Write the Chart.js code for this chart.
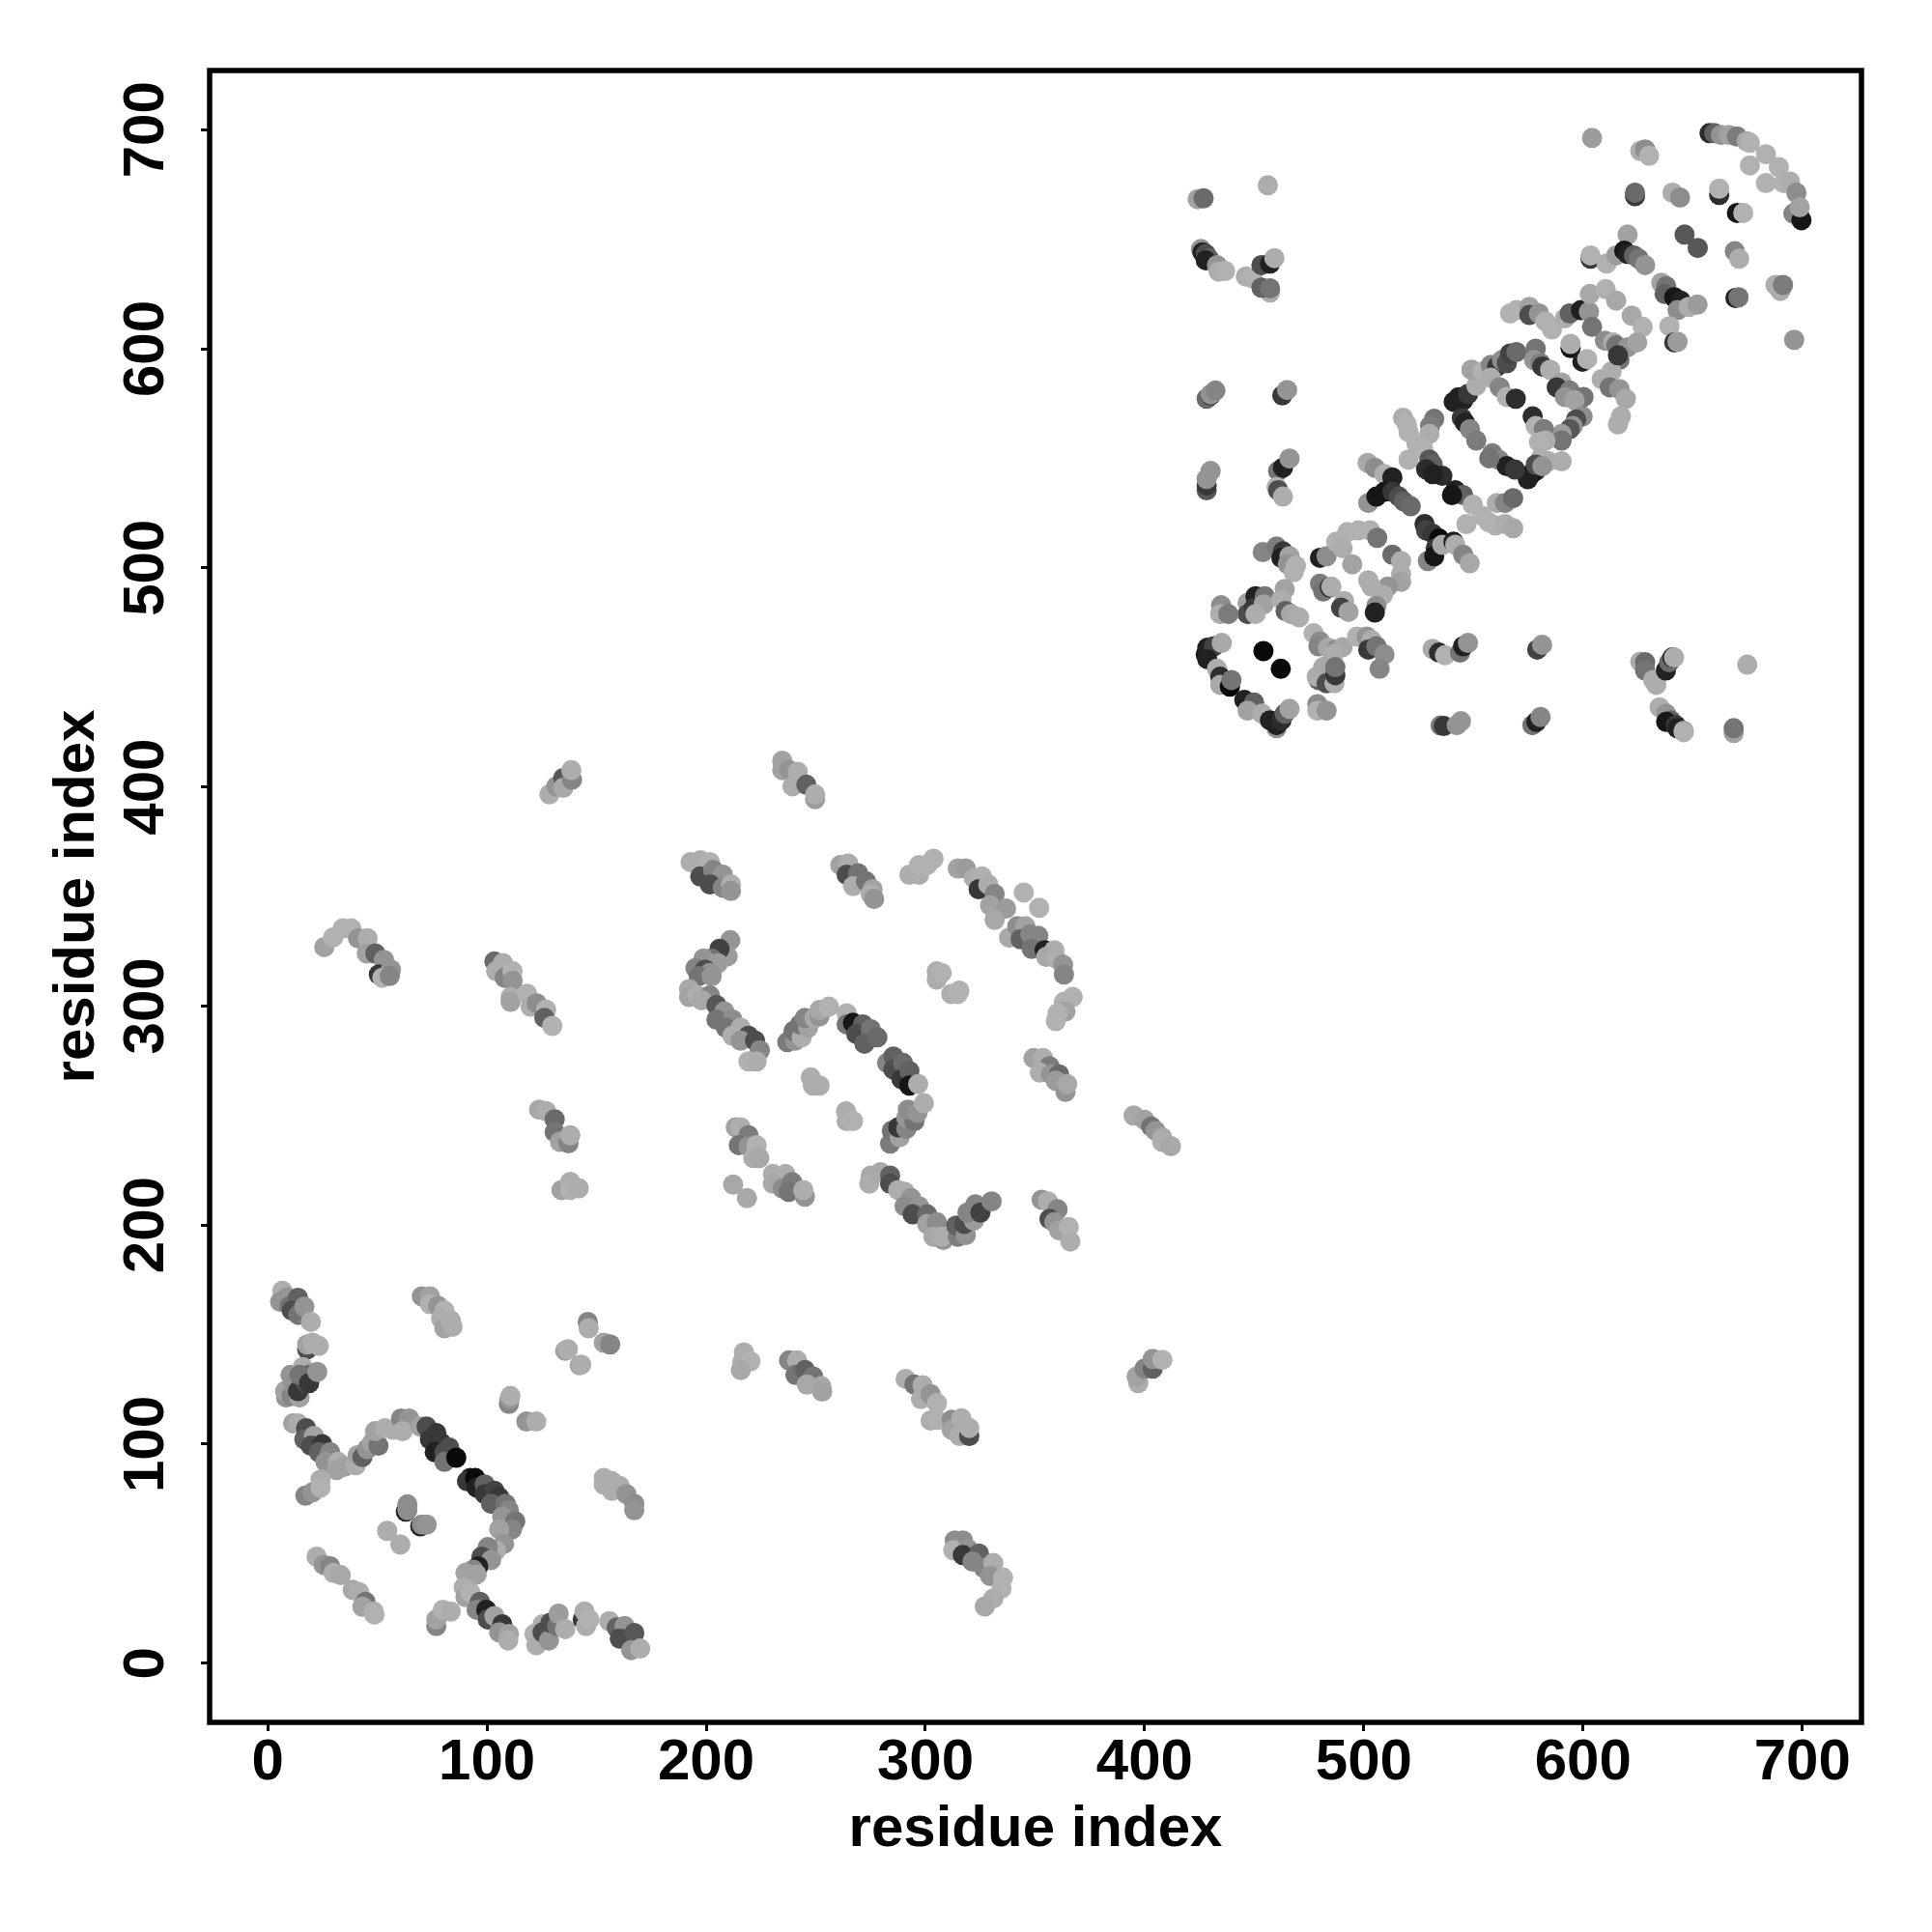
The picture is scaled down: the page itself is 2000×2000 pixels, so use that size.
<!DOCTYPE html>
<html>
<head>
<meta charset="utf-8">
<title>residue contacts</title>
<script src="https://cdn.jsdelivr.net/npm/chart.js@4"></script>
<style>
  html, body { margin: 0; padding: 0; background: #fff; }
</style>
</head>
<body>
<canvas id="contactChart" width="2000" height="2000"></canvas>
<script>
// Values, one line per group of points. Later points sit on top.
const residueX = [
  6.7,5.7,9,10,13,13.8,11,14,16.7,19.7,
  18,18,20.4,23.3,
  8.4,7.9,10.9,14.5,11.6,10.4,13.8,16,17.5,18.9,14.5,18.9,22.6,
  11.6,13.8,17.5,16.7,21.1,19.7,24.8,23.3,28.5,26.3,32.1,31.4,35.1,
  40.2,41,43.2,45.4,47.6,50.5,49,53.4,57.1,60.8,64.5,61.5,69.6,
  72.5,74,76.9,79.1,76.2,80.6,82.8,80.6,86,
  92.4,90.9,94.6,95.3,99,99,103.4,105.6,101.9,108.5,110,107,112.9,111.4,105.6,
  107.8,104.1,100.4,97.5,101.9,96,93.8,90.2,95.3,
  89.4,90.2,92.4,96.8,95.3,99.7,100.4,103.4,107,105.6,110,109.7,
  146,146.4,153.3,156.2,135.7,136.9,142.3,143,
  110,110.3,110.7,118,122.5,
  153.3,157,153.3,157,160.6,163.6,167.2,167.2,
  70.3,74,74,77.7,80.6,79.1,80.6,83.5,84.3,
  17.2,20.4,24.1,24.1,
  63,63.7,63.7,69.6,70.3,72.5,54.5,60.5,
  22.3,25.5,28.5,30,33.3,38.8,41.7,44.6,43.2,48.3,48.7,
  76.9,76.9,79.9,83.5,
  121.7,122.5,125.4,125.4,128.3,129,132,132.7,135.7,
  143.7,144.5,145.2,146.7,
  155.8,159.2,162.8,160.6,167.2,165.8,169.9,
  192.9,197.3,201.7,197.3,203.2,207.6,201.7,207.6,211.3,211.3,
  261.2,264.8,264.1,269.3,267,272.9,275.9,275.1,276.6,
  292.7,297.1,297.1,300.8,303.7,
  314.8,318.4,322.1,325.8,324.3,328.7,331.6,329.5,336.8,331.6,338.2,341.9,345.6,343.4,347.8,351.5,348.5,354.4,358.8,355.1,359.5,362.8,363.2,344.9,351.9,
  367.2,363.2,363.9,360.3,359.5,
  305.2,305.2,307.4,311.8,315.5,314.8,
  211,209.8,206.1,202.5,198.8,205.4,195.1,199.5,201.7,196.6,202.5,
  192.2,192.2,195.9,201.7,198,204.7,208.3,204.7,212,209,215.7,212,219.3,215.7,222.3,224.5,219.3,223,
  237,240.6,239.9,243.6,242.8,246.5,245,249.4,251.7,251.7,256,
  264.1,264.1,267,271.5,268.5,275.1,272.2,278.1,
  282.5,285.4,285.4,289.8,289.1,292.7,292.7,296.7,
  283.9,284.7,288.3,287.6,291.3,291.3,295,292,296.4,299.3,
  247.7,248.7,251.7,
  263.8,264.1,267,
  349.3,353.7,356.6,352.2,357.3,361,359.5,363.9,364.7,
  213.5,215.7,219.3,214.9,219.3,223,221.5,224.2,
  212.3,218.6,
  230.4,236.2,230.4,234.8,239.2,237.7,245,244.3,
  275.1,274.4,279.5,283.9,283.9,287.6,290.5,293.5,290.5,297.1,294.2,300.8,300.8,305.2,303.7,308.2,307.4,
  314.8,314,318.4,317.7,322.1,319.2,322.8,325.1,330.2,
  353,355.9,360.3,356.6,358.8,361,365.4,366.1,
  395,400,403,405,408,408,412,
  25.8,29.8,34.2,38.1,41.2,45.6,45.2,49.1,53,50.7,56.2,52.3,55.7,
  128.5,131.7,134.8,134.8,138.8,138.5,
  234.7,234.7,237.9,241.8,239.4,245.7,249.7,249.7,
  103.4,104.2,107.3,108.1,111.7,111.7,110.8,110.8,118.3,119.9,122.7,127,126.2,129.8,
  123.8,127,130.9,130.9,133.3,137.2,138,
  134,138,138,141.9,
  217.2,216.5,220.2,215.8,
  237.8,241.5,240.7,245.1,248.8,245.9,252.5,252.9,
  291,295,298.7,298,302.4,305.3,302.4,305.3,312,312,316.4,315.6,320,320,
  397.1,396.4,400,403.7,403.7,408.1,
  313.4,317.1,312.7,319.3,317.1,324.4,321.5,326.6,331,329.6,335.4,334.7,331,327.1,
  424.2,426.9,456.2,
  425.7,426.4,427.9,429.4,427.9,433,433.8,436.7,
  446.2,449.2,457.2,453.3,457.2,453.3,457.2,459.2,
  428.3,430.1,430.1,432.3,
  462.8,465,
  428.3,428.3,428.3,430.1,
  460.9,463.1,466.1,
  460.2,460.9,463.1,
  453.9,460.2,463.1,462.4,466.1,465.3,469,468,
  480,483,487.4,492.5,497.6,502.8,506.1,490.3,494.7,513,517,517,517,510.9,508.7,502,503.5,505.7,505,
  480,481.5,484.4,485.2,
  491,489.6,493,
  447,447,450.6,449.9,454.8,454.3,450.6,
  434.9,434.5,438.2,
  463.9,462.4,464.3,466.8,470.5,
  477.1,480,479.3,483.7,487.4,490.3,485.9,
  496.9,501.3,503.5,502,505.7,509.4,507.2,
  479.3,478.5,481.5,483,486.6,487,487,
  478.8,478.8,483,
  427.9,428.6,431.6,435.2,428.6,433,434.5,434.5,438.9,439.6,
  445.5,449.9,447,453.6,460.2,457.2,460.2,462.4,463.9,466.1,
  454.2,462.1,
  531.4,534.3,537,
  543.9,545.3,547.5,
  579.1,581.3,
  535,536.5,542.4,544.3,
  576.9,578.7,580.6,
  626.1,628.3,628.3,632,633.4,637.8,639.3,640.8,641.5,
  634.9,637.9,640,637.9,642.3,643,645.9,645.9,
  674.9,
  668.7,668.7,
  501.7,505,509.4,513,
  502,505.7,509.4,513,516,518.2,521.4,
  527.7,528.4,531.4,534.3,532.8,529.2,532.1,535.8,540.9,541.7,545.3,548.3,
  517.9,519.6,520.4,532.1,530.2,529.9,524,527,520.4,529.9,531.4,528.4,535.8,531.4,
  541.7,545.3,540.2,549.7,546.8,554.1,557,560.7,564.4,568.1,560,564.4,568.1,
  541,543.2,545.4,547.6,551.3,
  549.1,554.2,
  544.7,546.1,548.4,551.3,
  557.9,560.8,563,565.2,566.7,569.6,557.9,
  562,565.2,569.3,
  577,578.4,
  578.4,577.7,580.6,581.4,585,
  590.2,588,593.9,591.7,600.2,596.1,
  599.8,596.8,595.3,593.9,590.2,590.2,
  582.1,582.8,579.9,
  590.2,584.3,580.6,
  578.4,576.2,574.8,578.4,581.4,
  558.6,561.6,565.2,568.9,557.2,
  604.1,
  626.1,628.3,630.1,
  623.7,623.7,
  640.8,644.2,
  662.1,662.1,
  670.2,673.1,
  646.3,652.3,
  669.2,671.2,
  687.8,690,691.2,
  669.5,670.9,
  696.3,
  657.7,659.9,662.9,666.5,670.2,674.6,676.1,676.1,683.4,689.3,683.4,691.5,694.4,697.3,698.8,695.9,699.6,698.8,
  603.4,603.4,610.7,615.1,620.3,618.8,620.3,623.2,625.4,628.3,
  635.7,637.9,637.2,641.6,644.5,643.1,648.2,652.2,
  639.4,641.6,643.1,
  566.7,569.6,575.5,575.5,579.9,582.8,585.8,
  591.7,593.9,599,602.7,603.1,610.3,604.1,615.1,
  622.2,627.2,
  594.3,594.3,
  599.7,601.9,
  610,613.7,615.1,616.6,620.3,624.7,613,615.9,
  608.5,612.2,616.6,619.5,617.3,615.9
];

const residueY = [
  170,165,167,163,164,166.8,161,159,162.7,155.8,
  143.3,145.5,146.3,144.8,
  121.3,124.2,122,121.3,127.9,131.6,124.2,135.2,127.9,131.6,131.6,127.9,133,
  109.5,109.5,107.3,102.2,103.7,99.3,100,96.3,96.3,91.9,91.9,88.2,89.7,
  90.4,94.9,94.1,97.8,100.7,99.3,105.9,107.3,106.6,111.7,111.7,105.9,108,
  108,102.2,105.1,100.7,96.3,96.3,98.5,91.9,93.8,
  84.6,83.1,84.6,80.2,81.6,77.2,78.7,75.8,72.8,72.8,69.9,66.9,64.8,61.1,61.1,
  54.5,51.5,53,48.6,47.1,44.2,42.7,41.2,40.5,
  34.6,30.2,32.4,28,24.4,24.4,20,21.5,17.8,14.1,13.4,10.4,
  155.8,152.9,146.3,145.5,142.6,143.3,136,136.3,
  118.4,120.6,122,110.3,110.3,
  81.6,78.7,84.6,83.1,80.9,77.2,72.8,69.9,
  167.5,167.5,163.9,163.1,160.9,157.3,152.9,156.5,153.6,
  76.5,78,83.8,80.2,
  69.2,69.9,72.5,62.5,63.3,63.3,60.4,54.2,
  48.6,44.9,44.2,41.2,40.2,33.5,32.4,28,25.8,23.6,22.2,
  17,20,24.4,23.6,
  13.4,8.2,17.8,14.1,10.4,18.5,17,22.6,15.6,
  20,23.6,17,20,
  19.2,16.3,17,11.2,13.8,6,6.7,
  365.7,366.5,365.7,359.1,362.1,359.9,355.5,354,355.5,352.5,
  364.3,365,359.9,360.6,354.7,356.9,353.3,351.1,348.9,
  359.9,359.9,364.3,364.3,367.2,
  362.8,362.8,358.4,359.1,353.3,355.5,351.1,345.9,344.5,339.3,331.2,336.4,336.4,330.5,332.7,332,326.1,325.4,325.4,322.4,321.7,318.8,314.4,351.8,344.8,
  304.1,301.9,297.5,296.7,293.1,
  315.8,312.1,315.1,305.5,307,305.5,
  330,322.7,326.1,321.7,321.7,319.5,317.3,316.6,315.1,313.6,313.6,
  307.7,304.1,304.8,304.8,302.6,300.4,297.5,293.8,293.8,290.1,290.1,286.4,286.4,284.2,284.2,279.8,274.7,274.7,
  283.5,284.2,288.6,285.7,291.6,290.1,294.5,294.5,295.3,298.2,299.7,
  296.7,291.6,292.3,291.6,287.2,289.4,282.8,285.7,
  274,276.9,271,274,266.6,270.3,263.7,264.4,
  237.2,243.1,240.2,244.6,243.9,249,247.5,252.7,251.2,255.6,
  267.4,263.7,263.7,
  251.9,247.5,247.5,
  276.2,276.2,272.5,269.6,268.8,268.8,265.9,260.8,264.4,
  244.6,244.6,241,236.5,235.8,236.5,230.6,230.6,
  218.5,212.3,
  223.3,223.3,218.9,216.7,219.6,215.2,213,216,
  222.6,218.9,224.1,222.6,218.9,216,215.2,212.3,208.6,208.6,204.9,204.9,200.5,201.3,194.7,193.2,194.7,
  194.7,199.8,195.4,200.5,202,205.7,209.4,205.7,210.8,
  211.6,210.8,207.2,202.8,201.3,197.6,199.1,192.5,
  250,248,245,243,240,238,236,
  326.9,331.3,335.4,335.4,330.9,330.9,324,324,321,314.4,316.6,312.9,313.7,
  396.6,400.3,404,399.6,403.3,407.6,
  412,407.7,407.7,406.9,400.3,401,394.4,396.6,
  320.3,315.9,319.6,312.9,315.9,311.5,304.1,301.9,305.6,299.7,301.2,298.3,294.6,290.9,
  252.7,252,248.3,242.5,238,237.3,241,
  216,219.7,216,216.8,
  141.9,137.5,137.8,133.8,
  138.2,138.2,131.6,133.8,130.9,127.2,126.5,124,
  129.8,127.2,126.9,120.6,122.8,118.7,110.8,111.1,111.1,106.6,111.8,103.7,103.7,107.4,
  127.9,130.9,134.5,134.5,138.9,138.5,
  56,56,51.6,52.3,49.4,50.1,46.4,43.5,45.7,39.8,39.1,34,29.6,25.9,
  668.3,668.7,674.6,
  645.5,644,643.3,641.1,640.4,638.2,635.2,635.5,
  633,632.3,625.7,627.9,627.6,638.2,638.9,641.4,
  577.2,578.7,579.2,580.9,
  578.7,581.2,
  535.4,537.6,540.6,544.2,
  544.2,545.7,549.9,
  536.9,535.4,532.5,
  507.2,509.7,507.5,504.6,505.3,501.6,500.9,498,
  504.6,505.3,511.9,516.3,517.1,517.1,513.7,509,501.6,506,503.1,497.2,493.6,491.4,487.7,494.3,491.4,482.6,479.6,
  492.8,489.2,491.1,491.4,
  484.8,481.8,479.9,
  484,478.9,487,481.8,487,483.3,478.9,
  482.9,478.9,478.9,
  490.3,485.5,480.3,478.9,477.4,
  470.1,466.4,464.2,463.5,462.7,463.8,460.5,
  468.6,468.6,467.1,462.7,464.2,460.5,453.9,
  448.8,450.3,454.7,447.3,447.3,451,454.7,
  437.8,434.8,434.8,
  460.5,463.5,464.2,465.7,458.3,453.9,450.3,446.6,445.8,448.8,
  439.7,438.5,434.8,433.4,426.8,430.4,428.2,430.4,433.4,435.6,
  462,453.9,
  463,461.3,460.1,
  461.3,464.2,465.7,
  462.7,464.9,
  428,427.8,428.2,430,
  428.2,429.7,431.9,
  457.2,456.9,453.2,448.8,446.6,453.2,456.9,459.1,459.1,
  436.3,433.4,430.4,429.7,428.2,426.8,425.6,425,
  455.8,
  424.6,426.8,
  547.9,545.7,542.8,541.3,
  529.6,532.5,534.7,534.7,532.5,530.3,528.1,
  520,517.1,515.6,513.4,509,503.1,505.3,510.5,511.9,510.5,506,502.1,
  568.5,565.5,561.9,568,564.8,561.1,556.7,554.5,549.4,549.4,547.2,545,542,542.8,
  535.4,533.2,533.2,528.8,520,523.7,520.8,529.6,529.6,531.8,519.3,520,518.1,
  575.8,577.9,576.5,579.4,583.1,
  590.4,589.7,
  568.4,566.2,563.3,558.1,
  592.6,591.9,594.8,593.4,597.8,598.5,586.8,
  582.4,578,577.2,
  569.1,564.7,
  600,594.8,593.4,591.9,590.4,
  584.6,582.4,580.9,578,578,576.5,
  569.1,567.7,564.7,563.3,561.1,558.1,
  563.3,558.1,557.4,
  548.6,548.6,550,
  544.2,542.7,540.5,547.1,546.4,
  552.3,549.3,546.4,544.9,550,
  696.2,
  690.3,691,688.1,
  669.7,671.2,
  671.2,669,
  670.2,673.1,
  662,662,
  652.1,646,
  644.5,641.1,
  629.1,626.4,629.1,
  623.2,623.5,
  604.1,
  698.4,698.4,697.6,697.6,696.9,694.7,694,683.7,688.8,682.9,675.6,675.6,676.3,671.2,660.2,661.7,658.7,664.6,
  641.1,642.6,638.9,642.6,652.1,644.8,643.3,642.6,641.1,638.2,
  630.1,628.6,625,623.5,622,617.6,619.1,620.2,
  610.3,602.9,603.2,
  616.1,617.6,619.1,615.4,616.1,612.5,608.8,
  613.9,616.1,617.6,616.9,625,627.2,610,622,
  615.1,610,
  600.3,602.2,
  594.1,595.3,
  603.7,602.9,601.5,594.9,600.7,602.9,589.7,597,
  586.1,582.4,581.6,577.2,569.2,565.5
];

// 0 = palest grey, 1 = near black
const contactScore = [
  .1,.3,.3,.5,.5,.6,.7,.5,.3,.1,
  .7,.2,.1,.1,
  .3,.2,.4,.2,.3,.3,.8,.1,.7,.6,.5,.8,.3,
  .2,.1,.7,.6,.2,.7,.8,.6,.4,.3,.1,.2,.2,
  .1,.2,.6,.3,.2,.5,.2,.1,.1,.4,.3,.1,.2,
  .7,.8,.8,.8,.9,.7,.7,.5,1,
  .95,.8,1,.9,.6,.8,.75,.8,.6,.5,.4,.3,.5,.4,.2,
  .3,.1,.4,.7,.3,.9,.4,.2,.2,
  .1,.2,.05,.6,.4,.9,.7,.2,.8,.3,.2,.1,
  .4,.1,.2,.4,.2,.1,.2,.1,
  .4,.3,.1,.3,.1,
  .1,.1,.1,.1,.1,.3,.35,.3,
  .3,.2,.05,.3,.05,.1,.2,.1,.1,
  .4,.3,.1,.05,
  .9,.35,.35,.9,.35,.3,.1,.1,
  .1,.3,.4,.1,.15,.15,.1,.5,.2,.1,.05,
  .4,.2,.05,.1,
  .05,.1,.1,.7,.3,.7,.5,.25,.1,
  .8,.1,.1,.05,
  .1,.6,.3,.7,.65,.3,.1,
  .1,.1,.05,.7,.4,.3,.7,.4,.1,.3,
  .2,.1,.7,.5,.1,.5,.2,.1,.3,
  .1,.1,.05,.05,.05,
  .2,.25,.1,.05,.8,.1,.4,.2,.25,.15,.15,.35,.2,.6,.4,.4,.5,.9,.1,.15,.1,.3,.4,.05,.05,
  .05,.05,.2,.05,.05,
  .1,.1,.05,.1,.05,.05,
  .3,.25,.75,.5,.3,.25,.4,.7,.3,.5,.3,
  .15,.2,.1,.4,.15,.65,.3,.5,.35,.5,.1,.1,.7,.3,.7,.4,.05,.1,
  .45,.3,.5,.1,.5,.2,.4,.15,.3,.15,.05,
  .05,.5,.95,.6,.7,.5,.6,.55,
  .4,.6,.7,.55,.8,.6,.95,.1,
  .45,.5,.2,.8,.4,.3,.5,.35,.3,.1,
  .1,.1,.1,
  .1,.1,.05,
  .2,.1,.45,.1,.3,.55,.25,.3,.15,
  .2,.1,.45,.5,.3,.05,.1,.15,
  .15,.15,
  .1,.1,.15,.35,.45,.5,.3,.1,
  .15,.1,.15,.6,.7,.1,.1,.3,.35,.3,.7,.55,.2,.35,.15,.3,.1,
  .45,.6,.3,.7,.25,.4,.4,.75,.4,
  .3,.1,.4,.7,.3,.2,.05,.1,
  .15,.2,.5,.3,.15,.1,.15,
  .2,.05,.05,.05,.3,.1,.2,.6,.3,.8,.3,.05,.4,
  .1,.3,.65,.15,.4,.1,
  .2,.2,.3,.1,.1,.6,.25,.1,
  .55,.1,.1,.4,.05,.3,.1,.2,.05,.1,.35,.05,.6,.05,
  .15,.1,.55,.5,.2,.4,.1,
  .2,.1,.05,.1,
  .1,.1,.05,.15,
  .4,.1,.5,.6,.5,.15,.15,.2,
  .1,.5,.1,.1,.3,.05,.1,.05,.35,.2,.1,.1,.7,.1,
  .1,.2,.4,.6,.3,.05,
  .35,.35,.05,.3,.8,.6,.4,.4,.1,.3,.05,.05,.1,.15,
  .2,.55,.1,
  .3,.9,.7,.6,.9,.3,.1,.05,
  .1,.05,.1,.6,.5,.7,.9,.1,
  .55,.8,.3,.4,
  .8,.3,
  .65,.8,.3,.3,
  .5,.9,.3,
  .05,.7,.1,
  .4,.45,.8,.9,.2,.3,.05,.05,
  .9,.35,.05,.05,.05,.05,.5,.1,.2,.55,.1,.1,.2,.3,.1,.1,.1,.35,.9,
  .45,.5,.8,.1,
  .1,.75,.2,
  .2,.7,.9,.8,.5,.2,.1,
  .35,.1,.45,
  .2,.1,.6,.15,.1,
  .05,.35,.4,.15,.35,.15,.1,
  .05,.3,.1,.8,.5,.35,.4,
  .6,.1,.15,.7,.1,.8,.5,
  .35,.05,.3,
  .95,.9,.75,.15,.9,.1,.85,.15,1,.5,
  .9,.6,.2,.1,.3,.9,.9,.85,.6,.2,
  1,1,
  .15,.85,.05,
  .5,.9,.3,
  .75,.3,
  .45,.8,.3,.3,
  .5,.9,.4,
  .1,.55,.5,.1,.1,.9,.55,.9,.1,
  .1,.3,.6,.95,.8,.9,.2,.05,
  .1,
  .2,.5,
  .15,.35,.05,.9,
  .3,.95,.95,.8,.7,.6,.55,
  .85,.75,.8,1,.8,.4,.95,.15,.9,.1,.4,.15,
  .1,.05,.05,.5,.45,.1,.05,.05,.05,.65,.6,.85,.85,.9,
  .9,.6,.95,.05,.05,.05,.05,.1,.4,.55,.05,.1,.15,
  .9,.9,.9,.8,.1,
  .2,.05,
  .8,.9,.4,.45,
  .4,.8,.35,.7,.75,.55,.1,
  .4,.05,.85,
  .85,.05,
  .5,.3,.45,.8,.1,
  .2,.8,.45,.3,.5,.2,
  .35,.7,.3,.65,.25,.5,
  .45,.1,.05,
  .1,.1,.1,
  .85,.95,.9,.7,.3,
  .45,.4,.9,.8,.5,
  .25,
  .1,.35,.05,
  .8,.55,
  .1,.35,
  .85,.05,
  .95,.05,
  .65,.65,
  .4,.1,
  .1,.1,.45,
  .9,.5,
  .3,
  .85,.6,.3,.2,.45,.15,.05,.05,.05,.05,.05,.05,.1,.35,.9,.4,.95,.2,
  .8,.05,.05,.25,.2,.95,.9,.6,.5,.3,
  .2,.5,.6,.95,.9,.35,.1,.25,
  .05,.8,.25,
  .05,.05,.2,.7,.3,.05,.05,
  .1,.6,.9,.3,.15,.05,.5,.15,
  .15,.05,
  .95,.1,
  .9,.05,
  .35,.1,.5,.5,.3,.2,.1,.8,
  .1,.5,.3,.15,.1,.1
];

const tickValues = [0, 100, 200, 300, 400, 500, 600, 700];
const axisLabel = "residue index";

// darker grey for a higher score
function scoreToGrey(score) {
  const g = Math.round(180 - 170 * Math.pow(score, 1.4));
  return "rgb(" + g + "," + g + "," + g + ")";
}

const points = residueX.map((x, i) => ({ x: x, y: residueY[i] }));

// box round the plot
const frameBox = {
  id: "frameBox",
  afterDraw(chart) {
    const { ctx, chartArea: a } = chart;
    ctx.save();
    ctx.strokeStyle = "#000";
    ctx.lineWidth = 5.5;
    ctx.strokeRect(a.left, a.top, a.right - a.left, a.bottom - a.top);
    ctx.restore();
  }
};

const labelFont = { family: "'Liberation Sans'", size: 60, weight: "bold" };

const chart = new Chart(document.getElementById("contactChart").getContext("2d"), {
  type: "scatter",
  data: {
    datasets: [{
      data: points,
      pointRadius: 10.5,
      pointBorderWidth: 0,
      pointBackgroundColor: contactScore.map(scoreToGrey),
      showLine: false
    }]
  },
  options: {
    responsive: false,
    animation: false,
    layout: { padding: { top: 73, right: 73, left: 0, bottom: 0 } },
    plugins: { legend: { display: false }, tooltip: { enabled: false } },
    scales: {
      x: {
        min: -26.5,
        max: 727,
        afterFit(scale) { scale.height = 217; },
        afterBuildTicks(scale) { scale.ticks = tickValues.map(v => ({ value: v })); },
        grid: { drawOnChartArea: false, tickLength: 9, tickWidth: 3, tickColor: "#000" },
        border: { display: false },
        ticks: { color: "#000", font: labelFont, padding: -3, maxRotation: 0, autoSkip: false },
        title: { display: true, text: axisLabel, color: "#000", font: labelFont, padding: { top: 0, bottom: 70 } }
      },
      y: {
        min: -27,
        max: 727,
        afterFit(scale) { scale.width = 217; },
        afterBuildTicks(scale) { scale.ticks = tickValues.map(v => ({ value: v })); },
        grid: { drawOnChartArea: false, tickLength: 9, tickWidth: 3, tickColor: "#000" },
        border: { display: false },
        ticks: { color: "#000", font: labelFont, padding: 5, minRotation: 90, maxRotation: 90, crossAlign: "center", autoSkip: false },
        title: { display: true, text: axisLabel, color: "#000", font: labelFont, padding: { top: 44, bottom: 0 } }
      }
    }
  },
  plugins: [frameBox]
});
</script>
</body>
</html>
